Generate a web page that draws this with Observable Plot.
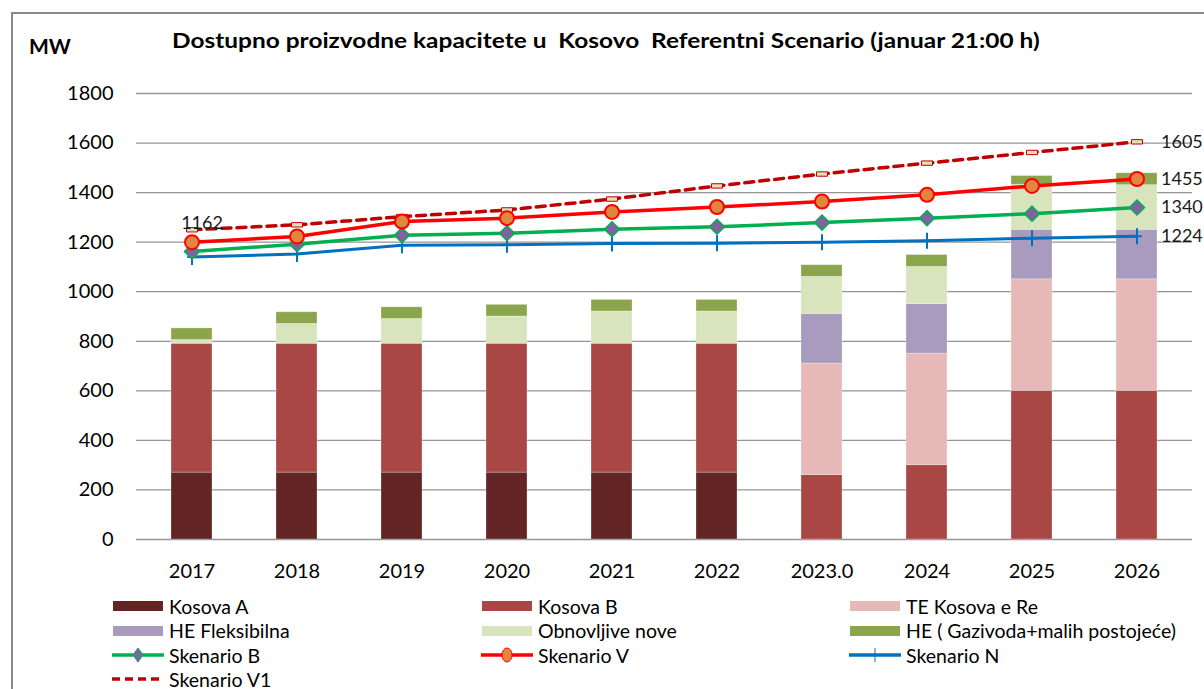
<!DOCTYPE html>
<html>
<head>
<meta charset="utf-8">
<script src="https://cdn.jsdelivr.net/npm/d3@7"></script>
<script src="https://cdn.jsdelivr.net/npm/@observablehq/plot@0.6"></script>
<style>
  html, body { margin: 0; padding: 0; background: #fff; }
  #wrap { position: relative; width: 1204px; height: 689px; overflow: hidden; font-family: Lato, "Open Sans", sans-serif; }
  #frameTop { position: absolute; left: 11px; top: 12px; width: 1200px; height: 2px; background: #8a8a8a; }
  #frameLeft { position: absolute; left: 11px; top: 12px; width: 2px; height: 690px; background: #8a8a8a; }
  #chart { position: absolute; left: 0; top: 0; }
  #title { position: absolute; left: 172px; top: 28px; font-weight: bold; font-size: 20px; white-space: pre; color: #000; transform: scaleX(1.222); transform-origin: 0 50%; }
  #unit { position: absolute; left: 29px; top: 33px; font-weight: bold; font-size: 21px; color: #000; }
  #legend { position: absolute; left: 0; top: 0; width: 1204px; height: 689px; pointer-events: none; }
  .item { position: absolute; display: flex; align-items: center; font-size: 19.5px; color: #000; white-space: pre; height: 22px; }
  .item svg { margin-right: 5px; }
</style>
</head>
<body>
<div id="wrap">
  <div id="frameTop"></div>
  <div id="frameLeft"></div>
  <div id="chart"></div>
  <div id="unit">MW</div>
  <div id="title">Dostupno proizvodne kapacitete u  Kosovo  Referentni Scenario (januar 21:00 h)</div>
  <div id="legend"></div>
</div>
<script>
// ---- data ----
const years = ["2017", "2018", "2019", "2020", "2021", "2022", "2023.0", "2024", "2025", "2026"];

const kosovaA       = [270, 270, 270, 270, 270, 270, 0, 0, 0, 0];
const kosovaB       = [520, 520, 520, 520, 520, 520, 260, 300, 600, 600];
const teKosovaERe   = [0, 0, 0, 0, 0, 0, 450, 450, 450, 450];
const heFleksibilna = [0, 0, 0, 0, 0, 0, 200, 200, 200, 200];
const obnovljive    = [15, 80, 100, 110, 130, 130, 150, 150, 182, 180];
const heGazivoda    = [47, 47, 47, 47, 47, 47, 47, 48, 35, 48];

const skenarioB  = [1162, 1192, 1228, 1236, 1252, 1262, 1279, 1297, 1315, 1340];
const skenarioV  = [1200, 1223, 1283, 1297, 1322, 1342, 1364, 1391, 1427, 1455];
const skenarioN  = [1140, 1152, 1188, 1190, 1195, 1196, 1200, 1206, 1216, 1224];
const skenarioV1 = [1250, 1270, 1303, 1330, 1374, 1427, 1475, 1519, 1562, 1605];

const yTicks = [0, 200, 400, 600, 800, 1000, 1200, 1400, 1600, 1800];

const barNames = ["Kosova A", "Kosova B", "TE Kosova e Re", "HE Fleksibilna", "Obnovljive nove", "HE ( Gazivoda+malih postojeće)"];
const barSeries = [kosovaA, kosovaB, teKosovaERe, heFleksibilna, obnovljive, heGazivoda];
const barColors = ["#632523", "#A94745", "#E6B8B7", "#A99BBE", "#D8E4BC", "#8BA54D"];

// ---- tables ----
const barData = [];
barNames.forEach((name, k) => {
  years.forEach((year, i) => barData.push({year, name, value: barSeries[k][i]}));
});
const lineData = years.map((year, i) => ({year, B: skenarioB[i], V: skenarioV[i], N: skenarioN[i], V1: skenarioV1[i]}));
const last = [lineData[lineData.length - 1]];
const first = [lineData[0]];

// custom symbols
const plusSymbol = {draw(ctx, size) { const r = Math.sqrt(size / Math.PI); ctx.moveTo(0, -r); ctx.lineTo(0, r); ctx.moveTo(-r * 0.6, 0); ctx.lineTo(r * 0.6, 0); }};
const dashSymbol = {draw(ctx, size) { const r = Math.sqrt(size / Math.PI); ctx.moveTo(-r, -r * 0.4); ctx.lineTo(r, -r * 0.4); ctx.lineTo(r, r * 0.4); ctx.lineTo(-r, r * 0.4); ctx.closePath(); }};
const diamondSymbol = {draw(ctx, size) { const r = Math.sqrt(size / Math.PI); ctx.moveTo(0, -r); ctx.lineTo(r, 0); ctx.lineTo(0, r); ctx.lineTo(-r, 0); ctx.closePath(); }};

const chart = Plot.plot({
  width: 1204,
  height: 600,
  marginLeft: 136,
  marginRight: 12,
  marginTop: 93,
  marginBottom: 61,
  style: {fontFamily: "Lato, 'Open Sans', sans-serif", fontSize: "20px", color: "#000", background: "transparent", overflow: "visible"},
  x: {domain: years, type: "band", paddingInner: 0.61, paddingOuter: 0.31, label: null},
  y: {domain: [0, 1800], label: null},
  color: {domain: barNames, range: barColors},
  marks: [
    Plot.gridY(yTicks, {stroke: "#959595", strokeOpacity: 1, strokeWidth: 1.3}),
    Plot.barY(barData, {x: "year", y: "value", fill: "name", order: barNames, stroke: "#ffffff", strokeOpacity: 0.35, strokeWidth: 0.8}),
    Plot.axisY({ticks: yTicks, tickFormat: d => String(d), tickSize: 0, tickPadding: 23, fontSize: 20, label: null}),
    Plot.axisX({tickSize: 0, tickPadding: 24, fontSize: 20, label: null}),
    // Skenario V1
    Plot.line(lineData, {x: "year", y: "V1", stroke: "#C00000", strokeWidth: 3.5, strokeDasharray: "9,6"}),
    Plot.dot(lineData, {x: "year", y: "V1", symbol: dashSymbol, r: 5.5, fill: "#E4DDB8", stroke: "#C00000", strokeWidth: 1}),
    // Skenario N
    Plot.line(lineData, {x: "year", y: "N", stroke: "#0070C0", strokeWidth: 3}),
    Plot.dot(lineData, {x: "year", y: "N", symbol: plusSymbol, r: 8, fill: "none", stroke: "#0070C0", strokeWidth: 2}),
    // Skenario B
    Plot.line(lineData, {x: "year", y: "B", stroke: "#00B050", strokeWidth: 3.5}),
    Plot.dot(lineData, {x: "year", y: "B", symbol: diamondSymbol, r: 7.5, fill: "#7F62A0", stroke: "#00B050", strokeWidth: 1.5}),
    // Skenario V
    Plot.line(lineData, {x: "year", y: "V", stroke: "#FF0000", strokeWidth: 3.5}),
    Plot.dot(lineData, {x: "year", y: "V", r: 7, fill: "#E0873F", stroke: "#FF0000", strokeWidth: 2}),
    // value labels
    Plot.text(last, {x: "year", y: "V1", text: d => String(d.V1), dx: 24, textAnchor: "start", fontSize: 18, fill: "#1a1a1a"}),
    Plot.text(last, {x: "year", y: "V", text: d => String(d.V), dx: 24, textAnchor: "start", fontSize: 18, fill: "#1a1a1a"}),
    Plot.text(last, {x: "year", y: "B", text: d => String(d.B), dx: 24, textAnchor: "start", fontSize: 18, fill: "#1a1a1a"}),
    Plot.text(last, {x: "year", y: "N", text: d => String(d.N), dx: 24, textAnchor: "start", fontSize: 18, fill: "#1a1a1a"}),
    Plot.text(first, {x: "year", y: "B", text: d => String(d.B), dx: 10, dy: -28, fontSize: 18, fill: "#1a1a1a"})
  ]
});
document.getElementById("chart").appendChild(chart);

// ---- legend ----
const legendItems = [
  {label: barNames[0], kind: "bar", color: barColors[0]},
  {label: barNames[1], kind: "bar", color: barColors[1]},
  {label: barNames[2], kind: "bar", color: barColors[2]},
  {label: barNames[3], kind: "bar", color: barColors[3]},
  {label: barNames[4], kind: "bar", color: barColors[4]},
  {label: barNames[5], kind: "bar", color: barColors[5]},
  {label: "Skenario B", kind: "B"},
  {label: "Skenario V", kind: "V"},
  {label: "Skenario N", kind: "N"},
  {label: "Skenario V1", kind: "V1"}
];
const colX = [112, 481, 849];
const rowY = [606, 630.5, 655, 679];
function swatch(kind, color) {
  const w = 52, h = 16, c = h / 2;
  if (kind === "bar") return `<svg width="${w}" height="${h}"><rect x="1" y="3" width="50" height="10" fill="${color}"/></svg>`;
  if (kind === "B") return `<svg width="${w}" height="${h}"><line x1="0" x2="${w}" y1="${c}" y2="${c}" stroke="#00B050" stroke-width="3.5"/><path d="M26,${c-7}L31,${c}L26,${c+7}L21,${c}Z" fill="#7F62A0" stroke="#00B050" stroke-width="1"/></svg>`;
  if (kind === "V") return `<svg width="${w}" height="${h}"><line x1="0" x2="${w}" y1="${c}" y2="${c}" stroke="#FF0000" stroke-width="3.5"/><ellipse cx="26" cy="${c}" rx="5" ry="7" fill="#E0873F" stroke="#FF0000" stroke-width="1"/></svg>`;
  if (kind === "N") return `<svg width="${w}" height="${h}"><line x1="0" x2="${w}" y1="${c}" y2="${c}" stroke="#0070C0" stroke-width="3.5"/><line x1="26" x2="26" y1="${c-7}" y2="${c+7}" stroke="#0070C0" stroke-width="1"/></svg>`;
  return `<svg width="${w}" height="${h}"><line x1="0" x2="${w}" y1="${c}" y2="${c}" stroke="#C00000" stroke-width="3.5" stroke-dasharray="8,5"/></svg>`;
}
const legend = document.getElementById("legend");
legendItems.forEach((it, i) => {
  const col = i % 3, row = Math.floor(i / 3);
  const el = document.createElement("div");
  el.className = "item";
  el.style.left = colX[col] + "px";
  el.style.top = (rowY[row] - 11) + "px";
  el.innerHTML = swatch(it.kind, it.color) + `<span>${it.label}</span>`;
  legend.appendChild(el);
});
</script>
</body>
</html>
